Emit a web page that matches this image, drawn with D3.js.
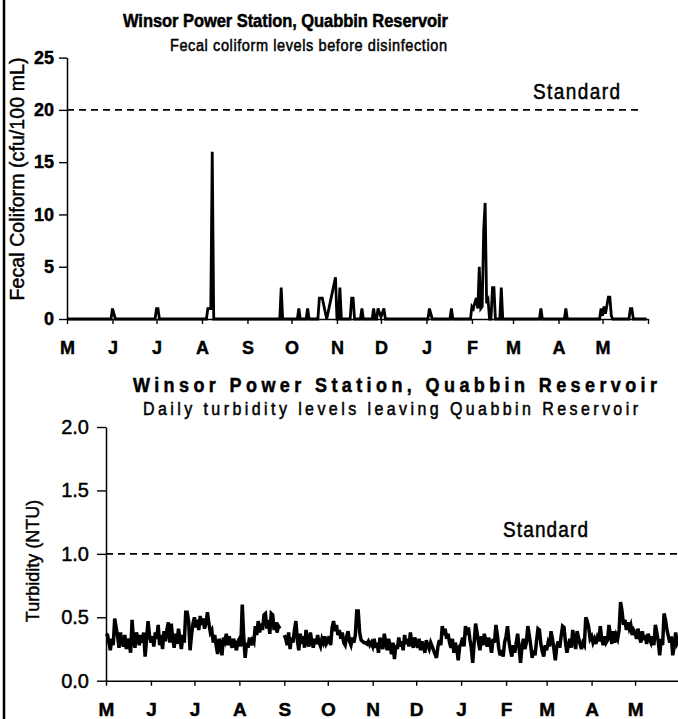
<!DOCTYPE html>
<html>
<head>
<meta charset="utf-8">
<script src="https://cdn.jsdelivr.net/npm/d3@7"></script>
<style>
  body { margin: 0; background: #fff; }
  svg text { font-family: "Liberation Sans", Arial, sans-serif; fill: #000; stroke: #000; stroke-width: 0.45px; }
</style>
</head>
<body>
<script>
// month tick labels, both panels
const monthLabels = ["M", "J", "J", "A", "S", "O", "N", "D", "J", "F", "M", "A", "M"];
const monthTicks = ["1998-05-01", "1998-06-01", "1998-07-01", "1998-08-01", "1998-09-01", "1998-10-01",
  "1998-11-01", "1998-12-01", "1999-01-01", "1999-02-01", "1999-03-01", "1999-04-01", "1999-05-01"];
const periodStart = "1998-05-01";
const periodEnd = "1999-06-01";

// fecal coliform samples (cfu/100 mL)
const fecalSamples = [
  ["1998-05-01", 0], ["1998-05-31", 0], ["1998-06-01", 1], ["1998-06-03", 0], ["1998-06-30", 0],
  ["1998-07-01", 1], ["1998-07-02", 1], ["1998-07-03", 0], ["1998-08-04", 0], ["1998-08-05", 1],
  ["1998-08-07", 1], ["1998-08-08", 16], ["1998-08-09", 0], ["1998-09-23", 0], ["1998-09-24", 3],
  ["1998-09-25", 0], ["1998-10-05", 0], ["1998-10-06", 1], ["1998-10-07", 0], ["1998-10-11", 0],
  ["1998-10-12", 1], ["1998-10-13", 0], ["1998-10-19", 0], ["1998-10-20", 2], ["1998-10-22", 2],
  ["1998-10-25", 0], ["1998-10-28", 2], ["1998-10-31", 4], ["1998-11-01", 0], ["1998-11-02", 0],
  ["1998-11-03", 3], ["1998-11-04", 0], ["1998-11-10", 0], ["1998-11-11", 2], ["1998-11-12", 2],
  ["1998-11-13", 0], ["1998-11-17", 0], ["1998-11-18", 1], ["1998-11-19", 0], ["1998-11-25", 0],
  ["1998-11-26", 1], ["1998-11-27", 0], ["1998-11-28", 0], ["1998-11-29", 1], ["1998-12-01", 0.2],
  ["1998-12-03", 1], ["1998-12-04", 0], ["1999-01-02", 0], ["1999-01-03", 1], ["1999-01-05", 0],
  ["1999-01-17", 0], ["1999-01-18", 1], ["1999-01-19", 0], ["1999-01-31", 0], ["1999-02-01", 1.2],
  ["1999-02-02", 1.0], ["1999-02-03", 1.6], ["1999-02-04", 2.0], ["1999-02-05", 1.0], ["1999-02-06", 5.0],
  ["1999-02-07", 1.0], ["1999-02-08", 1.2], ["1999-02-09", 8.5], ["1999-02-10", 11.1], ["1999-02-11", 1.5],
  ["1999-02-12", 1.8], ["1999-02-13", 0], ["1999-02-14", 0], ["1999-02-15", 3], ["1999-02-16", 3],
  ["1999-02-17", 0], ["1999-02-20", 0], ["1999-02-21", 3], ["1999-02-22", 0], ["1999-03-19", 0],
  ["1999-03-20", 1], ["1999-03-21", 0], ["1999-04-05", 0], ["1999-04-06", 1], ["1999-04-07", 0],
  ["1999-04-29", 0], ["1999-04-30", 1], ["1999-05-01", 0.3], ["1999-05-02", 1.2], ["1999-05-03", 0.5],
  ["1999-05-05", 2.1], ["1999-05-06", 2.1], ["1999-05-07", 0.3], ["1999-05-08", 0], ["1999-05-19", 0],
  ["1999-05-20", 1], ["1999-05-21", 1], ["1999-05-22", 0], ["1999-05-31", 0]
];
const fecalYTicks = [0, 5, 10, 15, 20, 25];
const fecalStandard = 20;

// daily turbidity (NTU), one array per month
const turbMay98 = [0.37,0.36,0.30,0.24,0.33,0.28,0.49,0.42,0.35,0.26,0.38,0.30,0.27,0.36,0.25,0.33,0.29,0.22,0.48,0.31,0.26,0.38,0.34,0.28,0.36,0.30,0.38,0.19,0.33,0.47,0.36];
const turbJun98 = [0.30,0.35,0.27,0.38,0.33,0.44,0.28,0.36,0.25,0.39,0.31,0.40,0.46,0.30,0.45,0.34,0.26,0.37,0.29,0.41,0.33,0.25,0.36,0.30,0.54,0.54,0.47,0.24,0.36,0.45];
const turbJul98 = [0.50,0.42,0.48,0.40,0.51,0.44,0.49,0.41,0.46,0.54,0.45,0.38,0.40,0.30,0.36,0.28,0.21,0.33,0.29,0.20,0.34,0.31,0.37,0.28,0.35,0.30,0.26,0.33,0.29,0.24,0.31];
const turbAug98 = [0.33,0.27,0.60,0.35,0.18,0.30,0.26,0.34,0.28,0.32,0.30,0.43,0.36,0.47,0.38,0.45,0.40,0.52,0.53,0.41,0.48,0.37,0.53,0.52,0.40,0.46,0.38,0.43,0.41,null,null];
const turbSep98 = [0.36,0.33,0.28,0.38,0.25,0.34,0.30,0.40,0.47,0.32,0.24,0.37,0.29,0.35,0.26,0.40,0.30,0.27,0.38,0.31,0.26,0.33,0.29,0.36,0.30,0.27,0.33,0.30,0.35,0.29];
const turbOct98 = [0.31,0.35,0.28,0.42,0.47,0.39,0.44,0.36,0.40,0.33,0.38,0.30,0.28,0.35,0.39,0.31,0.28,0.34,0.30,0.36,0.55,0.55,0.38,0.32,0.31,0.30,0.30,0.29,0.31,0.28,0.30];
const turbNov98 = [0.27,0.33,0.26,0.30,0.22,0.34,0.28,0.25,0.37,0.30,0.24,0.33,0.27,0.21,0.30,0.17,0.28,0.25,0.34,0.27,0.31,0.24,0.36,0.29,0.33,0.27,0.38,0.30,0.26,0.34];
const turbDec98 = [0.30,0.26,0.33,0.24,0.31,0.27,0.22,0.32,0.28,0.25,0.30,0.27,0.24,0.21,0.18,0.27,0.32,0.28,0.43,0.36,0.41,0.33,0.37,0.30,0.26,0.33,0.22,0.30,0.25,0.16,0.27];
const turbJan99 = [0.29,0.34,0.27,0.43,0.36,0.42,0.33,0.26,0.14,0.30,0.45,0.38,0.30,0.24,0.35,0.28,0.37,0.31,0.27,0.34,0.29,0.22,0.33,0.30,0.44,0.36,0.25,0.20,0.24,0.19,0.30];
const turbFeb99 = [0.35,0.43,0.31,0.24,0.19,0.28,0.22,0.30,0.37,0.26,0.14,0.27,0.33,0.25,0.30,0.43,0.36,0.28,0.18,0.24,0.20,0.31,0.41,0.40,0.29,0.23,0.19,0.28];
const turbMar99 = [0.24,0.30,0.27,0.39,0.33,0.25,0.16,0.27,0.31,0.26,0.35,0.43,0.42,0.30,0.22,0.28,0.33,0.26,0.40,0.32,0.25,0.39,0.34,0.29,0.25,0.30,0.28,0.50,0.47,0.42,0.33];
const turbApr99 = [0.35,0.30,0.33,0.29,0.34,0.31,0.43,0.33,0.28,0.35,0.30,0.32,0.44,0.36,0.29,0.39,0.30,0.36,0.33,0.40,0.62,0.55,0.44,0.48,0.40,0.46,0.41,0.44,0.36,0.40];
const turbMay99 = [0.38,0.33,0.41,0.35,0.30,0.39,0.32,0.36,0.29,0.37,0.33,0.30,0.35,0.28,0.44,0.38,0.31,0.20,0.33,0.28,0.53,0.48,0.40,0.35,0.30,0.35,0.20,0.27,0.38,0.30,0.33];
const turbYTicks = [0, 0.5, 1.0, 1.5, 2.0];
const turbStandard = 1.0;

const W = 678, H = 719;
const parse = d3.timeParse("%Y-%m-%d");
const font = '"Liberation Sans", Arial, sans-serif';
const stretch = 1.13; // scanned text is a bit taller than wide

const svg = d3.select("body").append("svg")
  .attr("width", W).attr("height", H);

// left page border
svg.append("line").attr("x1", 4).attr("x2", 4).attr("y1", 0).attr("y2", H)
  .attr("stroke", "#000").attr("stroke-width", 2.5);

function styleAxis(g, size, weight) {
  g.select(".domain").attr("stroke", "#000").attr("stroke-width", 1.5);
  g.selectAll(".tick line").attr("stroke", "#000").attr("stroke-width", 1.4);
  g.selectAll(".tick text").attr("font-family", font).attr("font-size", size)
    .attr("font-weight", weight).attr("fill", "#000");
}

function label(x, y, str, size, weight, len) {
  const t = svg.append("text")
    .attr("transform", `translate(${x},${y}) scale(1,${stretch})`)
    .attr("font-size", size).attr("font-weight", weight).text(str);
  if (len) t.attr("textLength", len).attr("lengthAdjust", "spacing");
  return t;
}

// ---------- top: fecal coliform ----------
const x1 = d3.scaleTime().domain([parse(periodStart), parse(periodEnd)]).range([67, 648]);
const y1 = d3.scaleLinear().domain([0, 25]).range([319, 57.6]);

const xa1 = svg.append("g").attr("transform", "translate(0,319)")
  .call(d3.axisBottom(x1).tickValues(monthTicks.map(parse).concat([parse(periodEnd)]))
    .tickFormat((d, i) => monthLabels[i] || "").tickSize(5).tickSizeOuter(0).tickPadding(17));
styleAxis(xa1, 18, "bold");

const ya1 = svg.append("g").attr("transform", "translate(67,0)")
  .call(d3.axisLeft(y1).tickValues(fecalYTicks).tickSize(8).tickSizeOuter(0).tickPadding(5));
styleAxis(ya1, 18, "bold");

svg.append("line").attr("x1", x1.range()[0]).attr("x2", 640)
  .attr("y1", y1(fecalStandard)).attr("y2", y1(fecalStandard))
  .attr("stroke", "#000").attr("stroke-width", 1.6).attr("stroke-dasharray", "7,5");

svg.append("path")
  .datum(fecalSamples)
  .attr("fill", "none").attr("stroke", "#000").attr("stroke-width", 2.8)
  .attr("d", d3.line().x(d => x1(parse(d[0]))).y(d => y1(d[1])));

label(123, 27, "Winsor Power Station, Quabbin Reservoir", 16.5, "bold", 325);
label(170, 50.5, "Fecal coliform levels before disinfection", 14.5, "normal", 277);
label(533, 99, "Standard", 19, "normal", 87);
svg.append("text").attr("transform", "translate(24,179) rotate(-90)").attr("text-anchor", "middle")
  .attr("font-size", 19.5).attr("textLength", 243).text("Fecal Coliform (cfu/100 mL)");

// ---------- bottom: turbidity ----------
const turbidity = [].concat(turbMay98, turbJun98, turbJul98, turbAug98, turbSep98, turbOct98,
  turbNov98, turbDec98, turbJan99, turbFeb99, turbMar99, turbApr99, turbMay99);
const t0 = parse(periodStart);
const turbData = turbidity.map((v, i) => ({ date: d3.timeDay.offset(t0, i), value: v }));

const x2 = d3.scaleTime().domain([parse(periodStart), parse(periodEnd)]).range([106, 680]);
const y2 = d3.scaleLinear().domain([0, 2]).range([680.7, 427]);

const xa2 = svg.append("g").attr("transform", "translate(0,680.7)")
  .call(d3.axisBottom(x2).tickValues(monthTicks.map(parse))
    .tickFormat((d, i) => monthLabels[i]).tickSize(5).tickSizeOuter(0).tickPadding(17));
styleAxis(xa2, 19, "bold");

const ya2 = svg.append("g").attr("transform", "translate(106,0)")
  .call(d3.axisLeft(y2).tickValues(turbYTicks).tickFormat(d3.format(".1f"))
    .tickSize(9).tickSizeOuter(0).tickPadding(8));
styleAxis(ya2, 20, "normal");

svg.append("line").attr("x1", x2.range()[0]).attr("x2", W)
  .attr("y1", y2(turbStandard)).attr("y2", y2(turbStandard))
  .attr("stroke", "#000").attr("stroke-width", 1.6).attr("stroke-dasharray", "7,5");

svg.append("path")
  .datum(turbData)
  .attr("fill", "none").attr("stroke", "#000").attr("stroke-width", 3.5)
  .attr("stroke-linejoin", "miter")
  .attr("d", d3.line().defined(d => d.value != null).x(d => x2(d.date)).y(d => y2(d.value)));

label(133, 392, "Winsor Power Station, Quabbin Reservoir", 18, "bold", 524);
label(143, 415, "Daily turbidity levels leaving Quabbin Reservoir", 16, "normal", 495);
label(503, 537, "Standard", 19, "normal", 85);
svg.append("text").attr("transform", "translate(38.5,561) rotate(-90)").attr("text-anchor", "middle")
  .attr("font-size", 18).text("Turbidity (NTU)");
</script>
</body>
</html>
